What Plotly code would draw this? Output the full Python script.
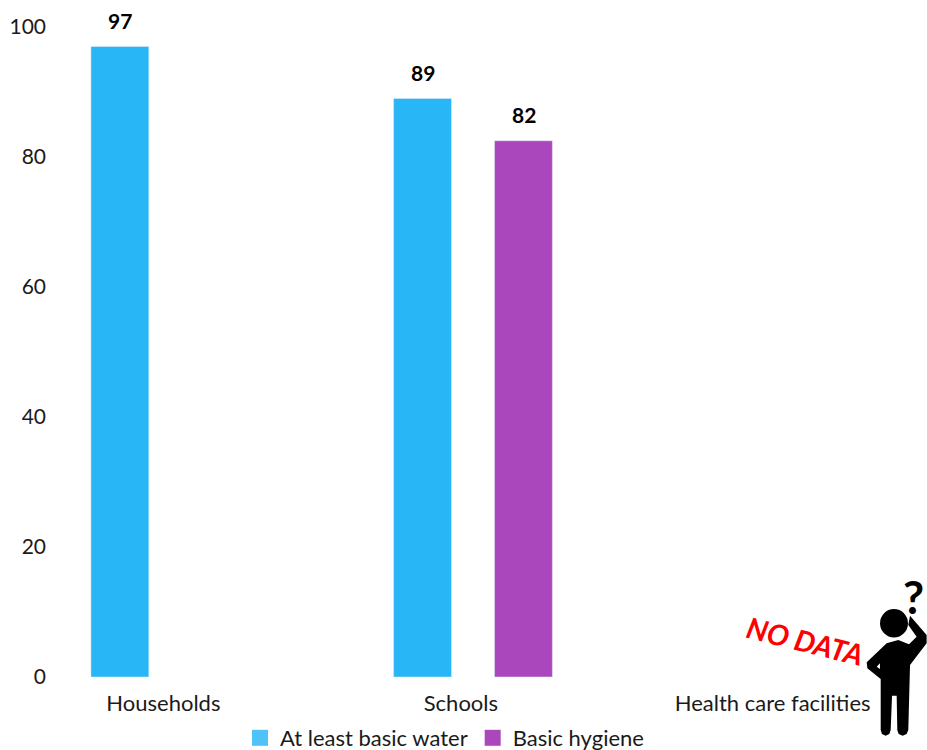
import plotly.graph_objects as go

positions = [0, 1, 2]
category_labels = ["Households", "Schools", "Health care facilities"]
label_positions = [-0.023, 0.96, 1.99]
water = [97, 89, None]
hygiene = [None, 82.5, None]
water_labels = ["97", "89", ""]
hygiene_labels = ["", "82", ""]
y_ticks = [0, 20, 40, 60, 80, 100]

BLUE = "#29B6F6"
BLUE_KEY = "#4FC3F7"
PURPLE = "#AB47BC"
FONT = "Lato, Carlito, Calibri, sans-serif"
PLOT_LEFT, PLOT_TOP, PLOT_W, PLOT_H = 19, 27, 908, 650
W, H = 927, 770


def px(x):
    return (x - PLOT_LEFT) / PLOT_W


def py(y):
    return (PLOT_TOP + PLOT_H - y) / PLOT_H


def z(x, y):
    return f"{px(860 + x / 3):.4f},{py(575 + y / 3):.4f}"


body = [(80, 205), (20, 262), (22, 280), (62, 312), (62, 465), (66, 477), (77, 482), (88, 477), (92, 465),
        (96, 362), (110, 362), (112, 465), (116, 477), (128, 482), (140, 477), (145, 465), (150, 270),
        (200, 205), (200, 180), (150, 122), (145, 150), (170, 185), (147, 208), (115, 195)]
notch = [(60, 265), (60, 282), (50, 275)]
path = "M" + "L".join(z(*p) for p in body) + "Z M" + "L".join(z(*p) for p in notch) + "Z"

fig = go.Figure()
fig.add_bar(x=positions, y=water, name="At least basic water", marker_color=BLUE, showlegend=False)
fig.add_bar(x=positions, y=hygiene, name="Basic hygiene", marker_color=PURPLE, showlegend=False)
for name, color in (("At least basic water", BLUE_KEY), ("Basic hygiene", PURPLE)):
    fig.add_scatter(x=[None], y=[None], mode="markers", name=name,
                    marker=dict(symbol="square", size=16, color=color))

annotations = []
for series, labels, shift in ((water, water_labels, -50.5), (hygiene, hygiene_labels, 50.5)):
    for xv, yv, lab in zip(positions, series, labels):
        if yv is not None:
            annotations.append(dict(x=xv, y=yv, text=f"<b>{lab}</b>", showarrow=False, xshift=shift,
                                    yshift=12, yanchor="bottom", font=dict(size=21, color="black", family=FONT)))
annotations.append(dict(xref="paper", yref="paper", x=px(805), y=py(640), xanchor="center", yanchor="middle",
                        text="<b><i>NO DATA</i></b>", textangle=14, showarrow=False,
                        font=dict(size=29, color="#FF0000", family=FONT)))
annotations.append(dict(xref="paper", yref="paper", x=px(913), y=py(596), xanchor="center", yanchor="middle",
                        text="<b>?</b>", showarrow=False, font=dict(size=46, color="black", family=FONT)))

fig.update_layout(
    width=W, height=H, autosize=False,
    margin=dict(l=PLOT_LEFT, r=0, t=PLOT_TOP, b=H - PLOT_H - PLOT_TOP, pad=0),
    paper_bgcolor="white", plot_bgcolor="white",
    barmode="group", bargap=1 / 3, bargroupgap=0.426,
    font=dict(family=FONT, size=22, color="#1a1a1a"),
    showlegend=True,
    legend=dict(orientation="h", x=px(240), y=py(738), xanchor="left", yanchor="middle",
                font=dict(size=22), bgcolor="rgba(0,0,0,0)", traceorder="normal",
                itemsizing="trace"),
    xaxis=dict(range=[-0.5, 2.5], tickmode="array", tickvals=label_positions, ticktext=category_labels,
               showgrid=False, zeroline=False, showline=False, ticks="", ticklabelstandoff=11,
               tickfont=dict(size=22)),
    yaxis=dict(range=[0, 100], tickmode="array", tickvals=y_ticks, showgrid=False, zeroline=False,
               showline=False, ticks="", anchor="free", position=px(46), tickfont=dict(size=21)),
    annotations=annotations,
    shapes=[
        dict(type="path", xref="paper", yref="paper", path=path, fillcolor="black", line_width=0, layer="above"),
        dict(type="circle", xref="paper", yref="paper", x0=px(880), x1=px(908), y0=py(637.5), y1=py(609),
             fillcolor="black", line_width=0, layer="above"),
    ],
)
fig.write_html("out.html", config={"displayModeBar": False},
               post_script="document.body.style.margin='0';document.documentElement.style.overflow='hidden';")
